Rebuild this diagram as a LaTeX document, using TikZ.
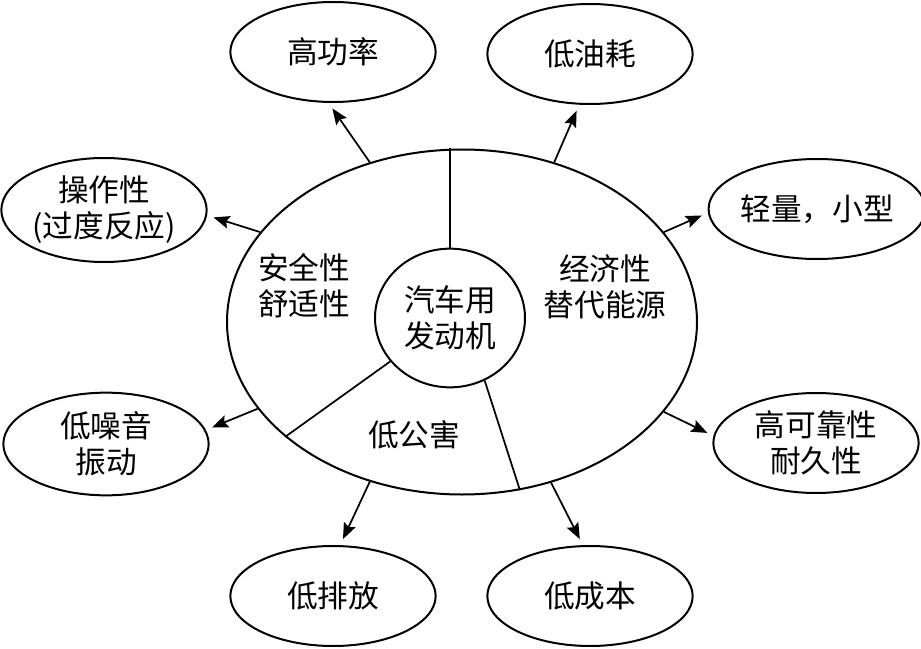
\documentclass[tikz,border=0pt]{standalone}
\usepackage{fontspec}
\setmainfont{Noto Sans CJK SC}
\usetikzlibrary{shapes.geometric,arrows.meta}
\begin{document}
\begin{tikzpicture}[x=0.75pt,y=-0.75pt,
  txt/.style={align=center,font=\fontsize{23}{27}\selectfont},
  oval/.style={draw,ellipse,line width=1.5pt,inner sep=0pt,minimum width=154pt,minimum height=75pt,txt},
  arr/.style={line width=1.3pt,-{Stealth[length=12pt,width=9.5pt,inset=2pt]},shorten >=5pt},
  divline/.style={line width=1.3pt}]
\useasboundingbox (0,0) rectangle (921,649);
% central ellipses
\node[draw,ellipse,line width=1.5pt,inner sep=0pt,minimum width=352.5pt,minimum height=258.75pt] (main) at (462,322) {};
\node[draw,ellipse,line width=1.5pt,inner sep=0pt,minimum width=112.5pt,minimum height=104pt,txt] (core) at (450,318) {汽车用\\发动机};
% region labels
\node[txt] (aq) at (304,286) {安全性\\舒适性};
\node[txt] (jj) at (605,287) {经济性\\替代能源};
\node[txt] (dg) at (414,435) {低公害};
% dividers
\draw[divline] (core.north) -- (core.north |- main.north);
\draw[divline] (core.216) -- (main.213.5);
\draw[divline] (core.-61) -- (main.-71.6);
% outer ellipses
\node[oval] (gl) at (333,52) {高功率};
\node[oval] (ly) at (590,54) {低油耗};
\node[oval,minimum height=78pt] (cz) at (104,210) {操作性\\(过度反应)};
\node[oval,minimum height=77pt] (zs) at (106,444) {低噪音\\振动};
\node[oval] (qx) at (817,209) {轻量，小型};
\node[oval] (gk) at (816,443) {高可靠性\\耐久性};
\node[oval] (pf) at (333,596) {低排放};
\node[oval] (cb) at (590,596) {低成本};
% arrows
\draw[arr] (main.120.6) -- (gl.265);
\draw[arr] (main.60.7) -- (ly.258);
\draw[arr] (main.156.5) -- (cz.-3);
\draw[arr] (main.203.9) -- (zs.8);
\draw[arr] (main.24.1) -- (qx.182);
\draw[arr] (main.-24.3) -- (gk.176);
\draw[arr] (main.240.8) -- (pf.82);
\draw[arr] (main.-61.6) -- (cb.98);
\end{tikzpicture}
\end{document}
